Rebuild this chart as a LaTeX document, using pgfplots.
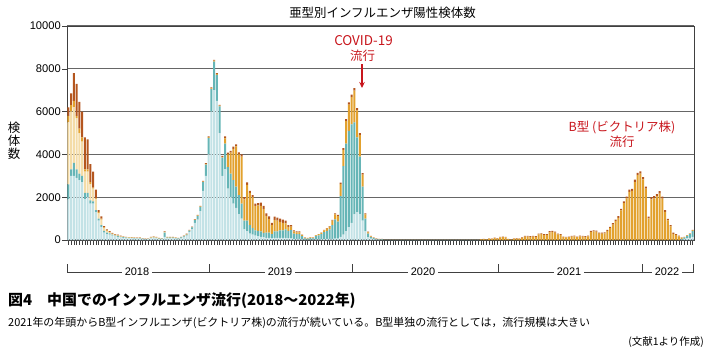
\documentclass[border=0pt]{standalone}
\usepackage{fontspec}
\setmainfont{Liberation Sans}
\newfontfamily\jp{Noto Sans CJK JP}
\usepackage{pgfplots}
\pgfplotsset{compat=1.18}
\usepackage{pgfplotstable}
\usetikzlibrary{arrows.meta}
\definecolor{cLB}{HTML}{C3E2E6}
\definecolor{cT}{HTML}{66B5B6}
\definecolor{cTan}{HTML}{F4DCA8}
\definecolor{cO}{HTML}{E2A12E}
\definecolor{cBr}{HTML}{B4561F}
\definecolor{cRed}{HTML}{C8161D}
\pgfplotstableread{
i lb t tan o br
0 1900 700 2900 300 400
1 3000 300 2700 300 550
2 3000 600 2600 300 1300
3 2900 400 2400 100 1500
4 2800 300 1900 200 1250
5 2700 300 1600 200 1200
6 1900 300 1000 100 1500
7 2000 200 1000 100 1400
8 1700 150 750 100 850
9 1700 100 600 50 750
10 1300 100 500 50 400
11 900 100 250 50 100
12 600 100 250 50 100
13 350 80 120 40 60
14 280 60 80 30 50
15 250 60 40 30 40
16 200 50 30 20 30
17 170 40 20 20 30
18 150 40 20 20 20
19 120 30 10 20 20
20 100 30 10 15 15
21 90 25 10 15 10
22 80 25 10 15 10
23 80 20 5 15 10
24 70 20 5 15 10
25 60 20 5 15 10
26 70 20 5 15 10
27 50 15 5 10 10
28 30 10 5 10 5
29 40 15 5 10 10
30 80 20 10 25 15
31 90 25 10 30 15
32 80 20 10 25 15
33 50 15 5 20 10
34 50 15 5 10 10
35 150 200 10 25 15
36 80 30 5 25 10
37 80 30 5 25 10
38 80 30 5 25 10
39 60 30 5 15 10
40 50 25 5 10 10
41 90 30 5 15 10
42 130 40 5 15 10
43 200 50 5 25 20
44 380 60 0 15 15
45 500 90 0 15 15
46 800 130 0 20 20
47 950 180 0 20 20
48 1350 200 0 25 25
49 2300 400 0 30 30
50 3000 520 0 35 35
51 4000 770 0 35 35
52 6000 1050 0 40 40
53 7000 1340 0 40 40
54 6500 1220 0 40 40
55 5000 1240 0 40 40
56 3000 850 0 40 40
57 3300 1200 0 250 90
58 2400 1000 0 600 80
59 2000 1100 0 980 90
60 1700 1100 0 1460 100
61 1500 1000 0 1870 100
62 1200 900 0 1900 100
63 1000 700 0 2200 100
64 500 400 0 1000 100
65 400 500 0 1680 110
66 300 400 0 1500 100
67 250 300 0 1450 100
68 200 250 0 1150 100
69 180 250 0 1190 100
70 150 250 0 1200 150
71 130 200 0 1120 150
72 100 250 0 780 120
73 100 250 0 630 120
74 80 200 0 420 100
75 100 300 0 540 150
76 100 300 0 500 150
77 100 350 0 400 150
78 100 350 0 350 150
79 100 400 0 280 120
80 80 350 0 180 90
81 80 380 0 160 80
82 50 250 0 100 50
83 50 220 0 90 40
84 50 230 0 80 40
85 30 150 0 50 20
86 20 60 0 30 10
87 15 50 0 25 10
88 20 70 0 30 10
89 20 60 0 30 10
90 30 150 0 40 10
91 30 190 0 50 10
92 40 230 0 60 10
93 40 330 0 80 20
94 50 380 0 100 20
95 50 450 0 120 30
96 50 650 0 200 40
97 60 900 0 240 50
98 60 800 0 260 50
99 150 1900 0 560 70
100 250 3200 0 760 80
101 400 4100 0 1050 100
102 600 4500 0 1230 100
103 800 4600 0 1280 110
104 1200 4300 0 1480 120
105 1300 3500 0 1260 100
106 1200 2700 0 1000 90
107 900 1600 0 550 70
108 400 600 0 200 50
109 120 180 0 60 30
110 60 80 0 30 20
111 40 50 0 20 15
112 25 30 0 15 10
113 15 20 0 10 5
114 10 15 0 20 5
115 0 3 0 5 2
116 0 3 0 5 2
117 0 3 0 5 2
118 0 3 0 5 2
119 0 3 0 5 2
120 0 3 0 5 2
121 0 3 0 5 2
122 0 3 0 5 2
123 0 3 0 5 2
124 0 3 0 5 2
125 0 3 0 5 2
126 0 3 0 5 2
127 0 3 0 5 2
128 0 3 0 5 2
129 0 3 0 5 2
130 0 3 0 5 2
131 0 3 0 5 2
132 0 3 0 5 2
133 0 3 0 5 2
134 0 3 0 5 2
135 0 3 0 5 2
136 0 3 0 5 2
137 0 3 0 5 2
138 0 3 0 5 2
139 0 3 0 5 2
140 0 3 0 5 2
141 0 3 0 5 2
142 0 3 0 5 2
143 0 3 0 5 2
144 0 3 0 5 2
145 0 3 0 5 2
146 0 3 0 5 2
147 0 3 0 5 2
148 0 3 0 5 2
149 0 3 0 5 2
150 0 0 0 30 10
151 0 0 0 40 10
152 0 0 0 25 10
153 0 0 0 60 15
154 0 0 0 50 15
155 0 0 0 90 20
156 0 0 0 70 20
157 0 0 0 120 25
158 0 0 0 130 25
159 0 0 0 120 25
160 0 0 0 40 15
161 0 0 0 20 10
162 0 0 0 60 15
163 0 0 0 70 15
164 0 0 0 60 20
165 0 0 0 100 20
166 0 0 0 160 30
167 0 0 0 160 30
168 0 0 0 150 30
169 0 0 0 160 30
170 0 0 0 150 30
171 0 0 0 260 40
172 0 0 0 270 40
173 0 0 0 230 40
174 0 0 0 240 40
175 0 0 0 360 50
176 0 0 0 380 50
177 0 0 0 340 50
178 0 0 0 260 40
179 0 0 0 240 40
180 0 0 0 130 30
181 0 0 0 120 30
182 0 0 0 130 30
183 0 0 0 160 30
184 0 0 0 170 30
185 0 0 0 130 30
186 0 0 0 170 30
187 0 0 0 160 30
188 0 0 0 150 30
189 0 0 0 170 30
190 0 0 0 380 50
191 0 0 0 400 50
192 0 0 0 390 50
193 0 0 0 300 50
194 0 0 0 300 50
195 0 0 0 310 50
196 0 0 0 410 60
197 0 0 0 550 60
198 0 0 0 720 70
199 0 0 0 880 70
200 0 0 0 1030 80
201 0 0 0 1380 80
202 0 0 0 1720 90
203 0 0 0 1940 90
204 0 0 0 2250 100
205 0 0 0 2290 100
206 0 0 0 2710 110
207 0 0 0 3030 110
208 0 0 0 3100 110
209 0 0 0 2830 110
210 0 0 0 2400 100
211 0 0 0 1010 80
212 0 0 0 1900 100
213 0 0 0 1950 100
214 0 0 0 2040 100
215 0 0 0 2170 110
216 0 0 0 1930 100
217 0 0 0 1320 80
218 0 0 0 920 70
219 0 0 0 640 60
220 0 0 0 290 50
221 0 0 0 240 40
222 0 0 0 170 30
223 20 30 0 60 10
224 50 60 0 30 10
225 80 110 0 30 10
226 100 170 0 30 10
227 150 280 0 30 10
}\flu
\begin{document}
\begin{tikzpicture}[x=1bp,y=1bp]
\path[use as bounding box] (-67,-111) rectangle (640,240);
\begin{axis}[at={(0,0)}, anchor=south west, width=627bp, height=214bp, scale only axis,
  ybar stacked, bar width=0.8,
  xmin=-0.5, xmax=227.5, ymin=0, ymax=10000,
  ytick={0,2000,...,10000}, scaled y ticks=false,
  xtick={0,...,227}, xticklabels={},
  tick align=outside, xtick pos=bottom, ytick pos=left,
  major tick length=4.5bp,
  ymajorgrids, grid style={draw=black!60, line width=1.2bp},
  axis line style={draw=black!75, line width=0.8bp},
  tick style={draw=black!75, line width=0.5bp},
  yticklabel style={font=\fontsize{11.2}{13}\selectfont, inner sep=1.5bp},
  /pgf/number format/assume math mode=true,
  /pgf/number format/1000 sep={},
  every axis plot/.append style={draw=none},
]
\addplot[fill=cLB] table[x=i,y=lb]{\flu};
\addplot[fill=cT] table[x=i,y=t]{\flu};
\addplot[fill=cTan] table[x=i,y=tan]{\flu};
\addplot[fill=cO] table[x=i,y=o]{\flu};
\addplot[fill=cBr] table[x=i,y=br]{\flu};
\end{axis}
% title
\node[font=\jp\fontsize{12.5}{14}\selectfont, inner sep=0] at (315.5,227) {亜型別インフルエンザ陽性検体数};
% y label
\node[font=\jp\fontsize{12.5}{13}\selectfont, align=center, inner sep=0] at (-53,99) {検\\体\\数};
% COVID annotation
\node[font=\jp\fontsize{13.5}{15}\selectfont, text=cRed, inner sep=0] at (296.5,199) {COVID-19};
\node[font=\jp\fontsize{12.5}{14}\selectfont, text=cRed, inner sep=0] at (295.5,184) {流行};
\draw[cRed, line width=1.1bp, -{Stealth[length=6bp,width=5.5bp]}] (295,176) -- (295,152);
% B annotation
\node[font=\jp\fontsize{12.5}{14}\selectfont, text=cRed, inner sep=0] at (555,112.5) {B型 (ビクトリア株)};
\node[font=\jp\fontsize{12.5}{14}\selectfont, text=cRed, inner sep=0] at (555,98) {流行};
% year bracket
\draw[black!75, line width=0.6bp] (0,-24) -- (0,-32) -- (626,-32) -- (626,-24);
\foreach \xx in {142,285,431,575} \draw[black!75, line width=0.6bp] (\xx,-32) -- (\xx,-24);
\foreach \xx/\yy in {70/2018,213/2019,356/2020,502/2021,600/2022}
  \node[fill=white, inner xsep=2.5bp, inner ysep=1bp, font=\fontsize{11}{12}\selectfont] at (\xx,-32) {\yy};
% caption
\node[anchor=west, inner sep=0, font=\jp\bfseries\fontsize{15}{16}\selectfont] at (-59,-61) {図4\quad 中国でのインフルエンザ流行(2018〜2022年)};
\node[anchor=west, inner sep=0, font=\jp\fontsize{11}{12}\selectfont] at (-59,-83) {2021年の年頭からB型インフルエンザ(ビクトリア株)の流行が続いている。B型単独の流行としては，流行規模は大きい};
\node[anchor=east, inner sep=0, font=\jp\fontsize{10.5}{12}\selectfont] at (637,-102) {(文献1より作成)};
\end{tikzpicture}
\end{document}
